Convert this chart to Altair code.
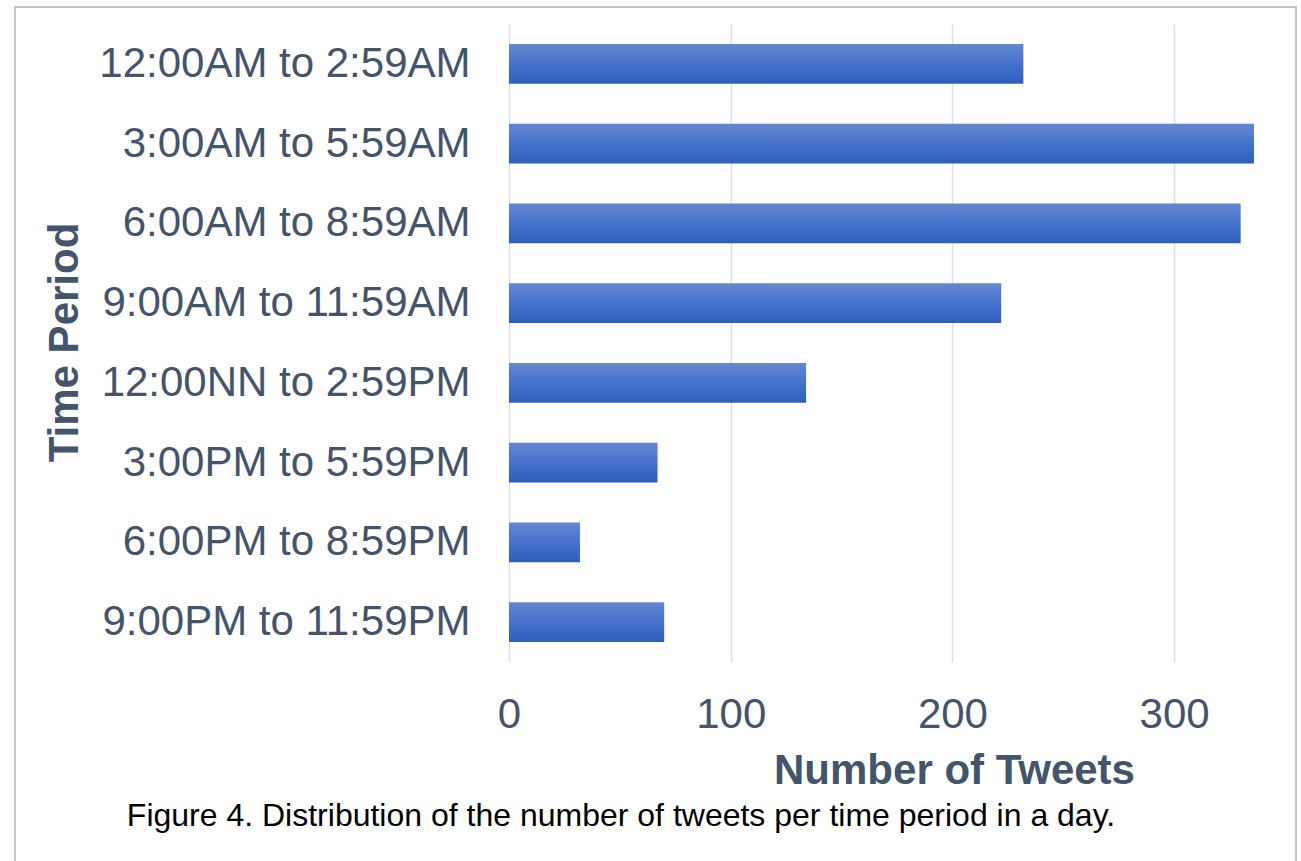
import altair as alt
import pandas as pd

# Tweets per three-hour period of the day
periods = [
    "12:00AM to 2:59AM",
    "3:00AM to 5:59AM",
    "6:00AM to 8:59AM",
    "9:00AM to 11:59AM",
    "12:00NN to 2:59PM",
    "3:00PM to 5:59PM",
    "6:00PM to 8:59PM",
    "9:00PM to 11:59PM",
]
tweets = [232, 336, 330, 222, 134, 67, 32, 70]
x_ticks = [0, 100, 200, 300]
caption = "Figure 4. Distribution of the number of tweets per time period in a day."

FONT = "Liberation Sans"
INK = "#44546A"

df = pd.DataFrame({"Time Period": periods, "Number of Tweets": tweets})

bar_fill = alt.Gradient(
    gradient="linear",
    stops=[
        alt.GradientStop(color="#6487D0", offset=0),
        alt.GradientStop(color="#4573CC", offset=0.5),
        alt.GradientStop(color="#2D5EBA", offset=1),
    ],
    x1=0, x2=0, y1=0, y2=1,
)

bars = alt.Chart(df).mark_bar(color=bar_fill, cornerRadius=0).encode(
    x=alt.X(
        "Number of Tweets:Q",
        scale=alt.Scale(domain=[0, 350], nice=False),
        axis=alt.Axis(
            values=x_ticks,
            title="Number of Tweets",
            domain=False,
            ticks=False,
            grid=True,
            gridColor="#DCE0E8",
            gridWidth=1.5,
            labelFont=FONT,
            labelFontSize=42,
            labelColor=INK,
            labelPadding=32,
            labelFlush=False,
            titleFont=FONT,
            titleFontSize=42,
            titleFontWeight="bold",
            titleColor=INK,
            titleX=445,
            titleY=121,
            titleAlign="center",
            titleBaseline="alphabetic",
        ),
    ),
    y=alt.Y(
        "Time Period:N",
        sort=periods,
        scale=alt.Scale(paddingInner=0.5, paddingOuter=0.25),
        axis=alt.Axis(
            title="Time Period",
            domain=False,
            ticks=False,
            grid=False,
            labelFont=FONT,
            labelFontSize=42,
            labelColor=INK,
            labelPadding=39,
            labelLimit=600,
            titleFont=FONT,
            titleFontSize=42,
            titleFontWeight="bold",
            titleColor=INK,
            titleAngle=-90,
            titleX=-432,
            titleY=318,
            titleAlign="center",
            titleBaseline="alphabetic",
        ),
    ),
)

# Figure caption under the chart
caption_text = alt.Chart(pd.DataFrame({"t": [caption]})).mark_text(
    font=FONT, fontSize=32, color="#000000", align="center", baseline="alphabetic"
).encode(text="t:N", x=alt.value(112), y=alt.value(802))

# Thin frame around the whole figure
frame = alt.Chart(pd.DataFrame({"k": [0]})).mark_rect(
    fill=None, stroke="#C6C6C6", strokeWidth=2
).encode(x=alt.value(-494), x2=alt.value(787), y=alt.value(-17), y2=alt.value(900))

chart = alt.layer(bars, caption_text, frame).properties(
    width=776,
    height=638,
    padding={"left": 509, "top": 24, "right": 16, "bottom": 199},
    autosize=alt.AutoSizeParams(type="none"),
    background="white",
).configure_view(stroke=None)

chart.save("out.html", embed_options={"renderer": "svg", "actions": False})
